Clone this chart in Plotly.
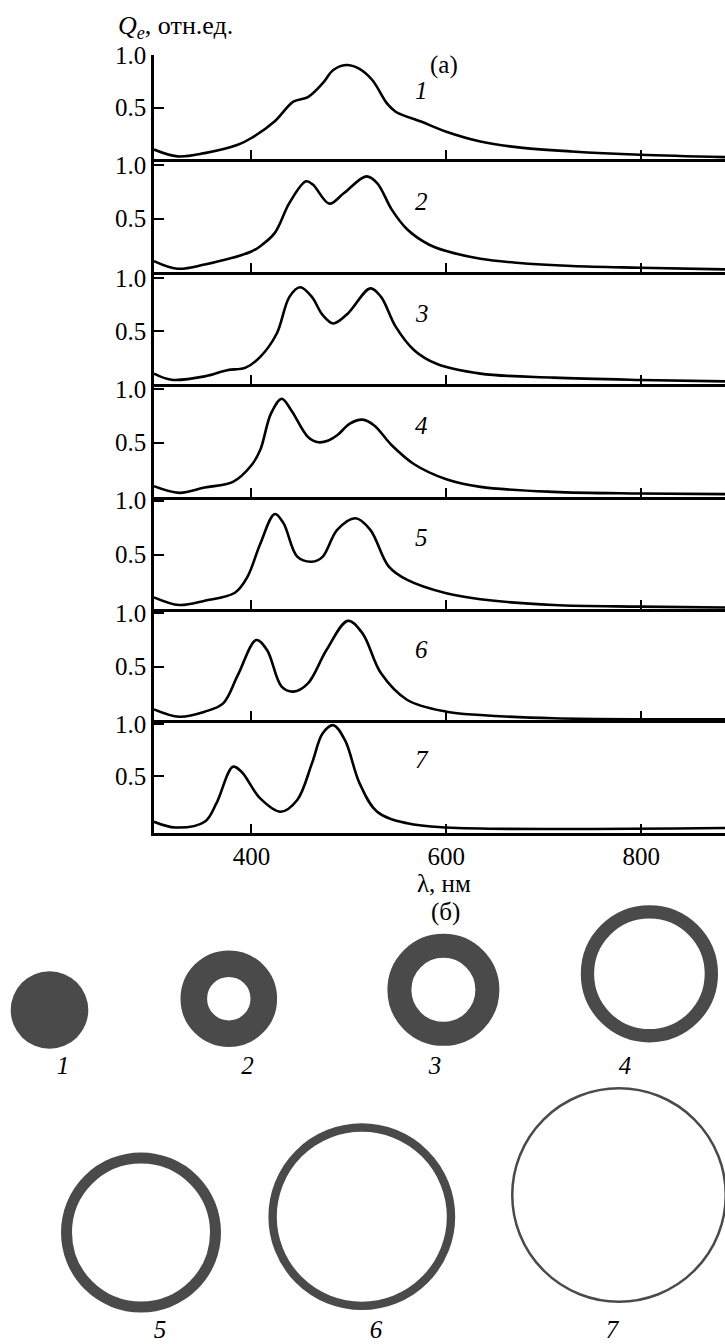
import plotly.graph_objects as go

# ---------------- data: extinction spectra (nm, Q_e rel. units) ----------------
wl1 = [300, 324, 352, 386, 400, 424, 443, 458, 473, 484, 497, 510, 524, 539, 548, 574, 600, 635, 672, 729, 799, 886]
q1 = [0.10, 0.035, 0.066, 0.145, 0.21, 0.37, 0.556, 0.60, 0.73, 0.857, 0.905, 0.873, 0.762, 0.54, 0.46, 0.367, 0.27, 0.177, 0.123, 0.082, 0.05, 0.028]

wl2 = [300, 324, 352, 400, 409, 424, 439, 456, 463, 480, 495, 518, 529, 544, 560, 582, 600, 635, 672, 729, 799, 886]
q2 = [0.10, 0.028, 0.068, 0.19, 0.24, 0.365, 0.647, 0.85, 0.82, 0.64, 0.74, 0.897, 0.834, 0.584, 0.397, 0.256, 0.194, 0.122, 0.084, 0.053, 0.037, 0.022]

wl3 = [300, 318, 352, 375, 394, 409, 426, 439, 450, 462, 473, 484, 499, 522, 533, 548, 567, 590, 635, 710, 799, 886]
q3 = [0.098, 0.04, 0.072, 0.13, 0.154, 0.255, 0.475, 0.82, 0.91, 0.82, 0.65, 0.57, 0.664, 0.90, 0.82, 0.54, 0.318, 0.19, 0.098, 0.06, 0.038, 0.025]

wl4 = [300, 326, 352, 381, 400, 409, 420, 431, 441, 458, 469, 479, 488, 501, 514, 526, 544, 567, 600, 635, 710, 799, 886]
q4 = [0.093, 0.031, 0.08, 0.134, 0.289, 0.43, 0.77, 0.91, 0.80, 0.553, 0.503, 0.52, 0.568, 0.677, 0.714, 0.66, 0.475, 0.298, 0.158, 0.087, 0.04, 0.025, 0.019]

wl5 = [300, 326, 352, 383, 396, 409, 424, 433, 447, 462, 473, 488, 507, 522, 541, 560, 600, 635, 710, 799, 886]
q5 = [0.105, 0.034, 0.074, 0.148, 0.297, 0.60, 0.877, 0.79, 0.482, 0.435, 0.48, 0.73, 0.837, 0.73, 0.39, 0.266, 0.142, 0.087, 0.034, 0.019, 0.01]

wl6 = [300, 326, 352, 371, 386, 405, 416, 431, 443, 458, 477, 499, 514, 533, 560, 600, 635, 710, 886]
q6 = [0.10, 0.031, 0.078, 0.156, 0.42, 0.75, 0.656, 0.3125, 0.266, 0.344, 0.656, 0.93, 0.8125, 0.4375, 0.1875, 0.078, 0.047, 0.016, 0.006]

wl7 = [300, 322, 352, 364, 381, 390, 409, 430, 447, 462, 473, 484, 496, 511, 529, 560, 600, 886]
q7 = [0.06, 0.005, 0.06, 0.237, 0.59, 0.54, 0.285, 0.157, 0.27, 0.62, 0.91, 0.99, 0.846, 0.43, 0.157, 0.045, 0.005, 0.0]

spectra = [(wl1, q1), (wl2, q2), (wl3, q3), (wl4, q4), (wl5, q5), (wl6, q6), (wl7, q7)]
curve_labels = ["1", "2", "3", "4", "5", "6", "7"]

x_ticks = [400, 600, 800]
y_ticks = [0.5, 1.0]
y_ticktext = ["0.5", "1.0"]

# ---------------- data: particle cross-sections (b) ----------------
ring_outer = [38.8, 48.3, 56.0, 68.6, 80.0, 93.4, 108.0]
ring_inner = [0.0, 21.7, 32.0, 55.3, 69.0, 85.0, 105.5]
ring_labels = ["1", "2", "3", "4", "5", "6", "7"]

# ---------------- layout constants (pixels) ----------------
W, H = 725, 1344
FONT = "Liberation Serif, Times New Roman, Times, serif"
x_left = 154
bounds = [55, 159, 271.7, 384, 496.7, 608.7, 720, 832.7]
yranges = [[0.01, 1.0], [0.0, 1.06], [0.0, 1.057], [-0.005, 1.047], [0.0, 1.037], [0.0, 1.044], [-0.045, 1.04]]
ring_cx = [49.5, 228.8, 443.4, 649.4, 141.0, 361.8, 619.0]
ring_cy = [1010, 998.7, 989.8, 973.8, 1232.5, 1216.7, 1195]
lab_x = [63, 247.5, 435, 625, 160, 376, 612]
lab_y = [1068, 1068, 1068, 1068, 1332, 1332, 1332]
ring_color = "#4a4a4a"

def py(p):
    return 1 - p / H

fig = go.Figure()
layout = dict(
    width=W, height=H, autosize=False, margin=dict(l=0, r=0, t=0, b=0, pad=0),
    paper_bgcolor="white", plot_bgcolor="white", showlegend=False,
    font=dict(family=FONT, size=25, color="black"),
)

annotations = []
for i, (wl, q) in enumerate(spectra):
    n = i + 1
    xa = "x" if n == 1 else f"x{n}"
    ya = "y" if n == 1 else f"y{n}"
    fig.add_trace(go.Scatter(x=wl, y=q, mode="lines", xaxis=xa, yaxis=ya,
                             line=dict(color="black", width=2.6, shape="spline", smoothing=1.0),
                             hoverinfo="skip"))
    xkey = "xaxis" if n == 1 else f"xaxis{n}"
    ykey = "yaxis" if n == 1 else f"yaxis{n}"
    layout[xkey] = dict(domain=[x_left / W, 1], range=[300, 886], anchor=ya,
                        showline=True, linecolor="black", linewidth=2.5, mirror=False,
                        ticks="inside", ticklen=9, tickwidth=2, tickcolor="black",
                        tickvals=x_ticks, showticklabels=(n == 7),
                        tickfont=dict(family=FONT, size=25, color="black"),
                        showgrid=False, zeroline=False, fixedrange=True, automargin=False)
    layout[ykey] = dict(domain=[py(bounds[i + 1]), py(bounds[i])], range=yranges[i], anchor=xa,
                        showline=True, linecolor="black", linewidth=2.5,
                        ticks="inside", ticklen=10, tickwidth=2, tickcolor="black",
                        tickvals=y_ticks, ticktext=y_ticktext,
                        tickfont=dict(family=FONT, size=25, color="black"),
                        showgrid=False, zeroline=False, fixedrange=True, automargin=False)
    annotations.append(dict(x=575, y=0.66, xref=xa, yref=ya, text=f"<i>{curve_labels[i]}</i>",
                            showarrow=False, font=dict(family=FONT, size=25, color="black"),
                            xanchor="center", yanchor="middle"))

# bottom subplot for particle drawings, 1 unit = 1 px
top_b = 900
layout["xaxis8"] = dict(domain=[0, 1], range=[0, W], anchor="y8", visible=False, fixedrange=True)
layout["yaxis8"] = dict(domain=[0, py(top_b)], range=[H, top_b], anchor="x8", visible=False, fixedrange=True)
fig.add_trace(go.Scatter(x=lab_x, y=lab_y, mode="text", xaxis="x8", yaxis="y8",
                         text=[f"<i>{t}</i>" for t in ring_labels],
                         textfont=dict(family=FONT, size=25, color="black"),
                         textposition="middle center", hoverinfo="skip"))

shapes = []
for cx, cy, ro, ri in zip(ring_cx, ring_cy, ring_outer, ring_inner):
    if ri <= 0:
        shapes.append(dict(type="circle", xref="x8", yref="y8", x0=cx - ro, x1=cx + ro,
                           y0=cy - ro, y1=cy + ro, fillcolor=ring_color, line=dict(width=0)))
    else:
        rm = (ro + ri) / 2
        shapes.append(dict(type="circle", xref="x8", yref="y8", x0=cx - rm, x1=cx + rm,
                           y0=cy - rm, y1=cy + rm, fillcolor="rgba(0,0,0,0)",
                           line=dict(color=ring_color, width=ro - ri)))

annotations += [
    dict(x=116 / W, y=py(27), xref="paper", yref="paper", xanchor="left", yanchor="middle",
         text="<i>Q<sub>e</sub></i>, отн.ед.", showarrow=False,
         font=dict(family=FONT, size=26, color="black")),
    dict(x=444 / W, y=py(65), xref="paper", yref="paper", xanchor="center", yanchor="middle",
         text="(а)", showarrow=False, font=dict(family=FONT, size=25, color="black")),
    dict(x=444 / W, y=py(883), xref="paper", yref="paper", xanchor="center", yanchor="middle",
         text="λ, нм", showarrow=False, font=dict(family=FONT, size=25, color="black")),
    dict(x=445 / W, y=py(912), xref="paper", yref="paper", xanchor="center", yanchor="middle",
         text="(б)", showarrow=False, font=dict(family=FONT, size=25, color="black")),
]
layout["annotations"] = annotations
layout["shapes"] = shapes
fig.update_layout(**layout)
fig.write_html("out.html")
